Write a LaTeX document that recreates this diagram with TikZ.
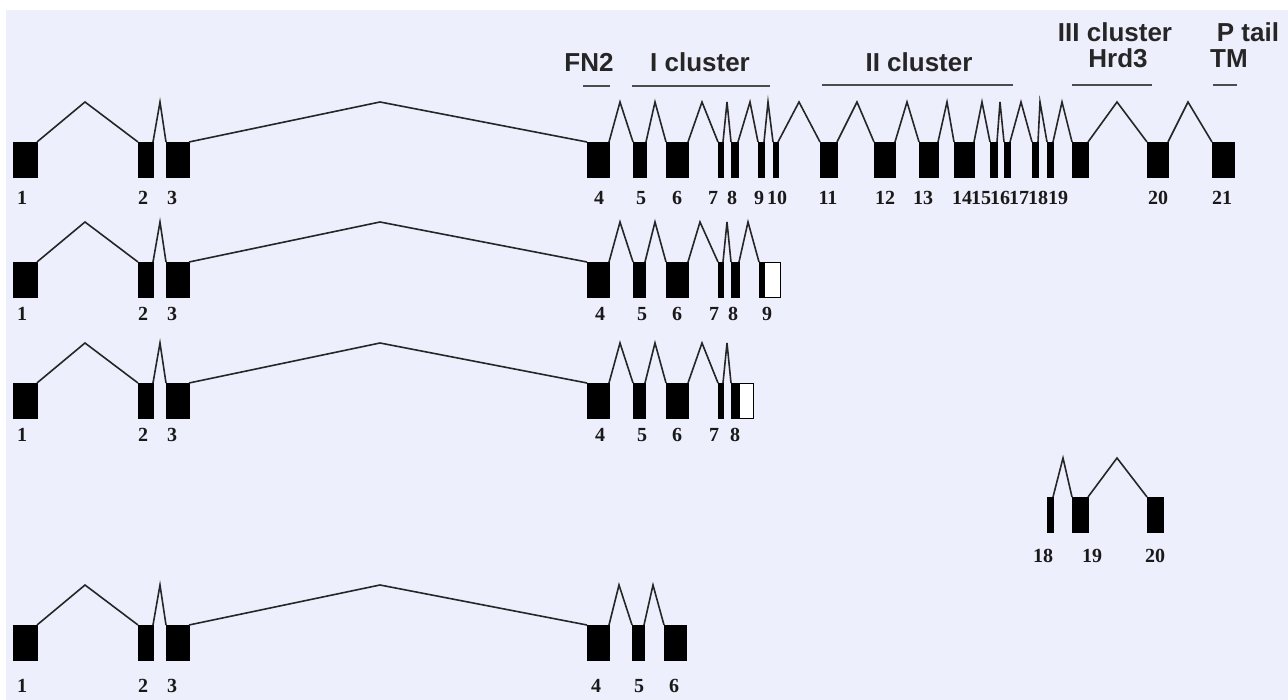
\documentclass[tikz,border=0pt]{standalone}
\usepackage{fontspec}
\setmainfont{Liberation Serif}
\newfontfamily\hdrfont{Liberation Sans}
\definecolor{bgcol}{RGB}{238,239,252}
\tikzset{
 exon/.style={draw=black, fill=black, line width=0.6pt, inner sep=0pt, outer sep=0pt, anchor=north west, minimum height=35pt},
 halfexon/.style={exon, fill=white},
 intron/.style={line width=1.6pt, draw=black!85, line join=miter},
 num/.style={font=\fontsize{20}{23}\selectfont\bfseries, anchor=base, inner sep=0pt, text=black!90},
 hdr/.style={font=\hdrfont\fontsize{26}{30}\selectfont\bfseries, anchor=base, inner sep=0pt, text=black!85},
 hbar/.style={line width=2.5pt, draw=black!70},
}
\newcommand\ex[5][exon]{\node[#1,minimum width={(#4)-(#3)}] (#2) at (#3,#5) {};}
\newcommand\intr[4]{\draw[intron] (#1.north east) -- (#3,#4) -- (#2.north west);}
\newcommand\leftpart[4]{%
 \ex{#1e1}{13}{37}{#2}
 \ex{#1e2}{138}{153}{#2}
 \ex{#1e3}{166}{189}{#2}
 \ex{#1e4}{587}{609}{#2}
 \intr{#1e1}{#1e2}{85}{#3}
 \intr{#1e2}{#1e3}{160}{#3}
 \intr{#1e3}{#1e4}{380}{#3}
 \node[num] (#1n1) at (22,#4) {1};
 \node[num] (#1n2) at (143,#4) {2};
 \node[num] (#1n3) at (172,#4) {3};
}
\begin{document}
\begin{tikzpicture}[x=1pt,y=-1pt]
\useasboundingbox (0,0) rectangle (1288,700);
\fill[white] (0,0) rectangle (1288,700);
\fill[bgcol] (6,10) rectangle (1288,700);

% headers
\node[hdr] (hfn) at (589,72) {FN2};
\node[hdr] (hI) at (700,72) {I cluster};
\node[hdr] (hII) at (919,72) {II cluster};
\node[hdr] (hIII) at (1115,42) {III cluster};
\node[hdr] (hHrd) at (1118,68) {Hrd3};
\node[hdr] (hP) at (1248,42) {P tail};
\node[hdr] (hTM) at (1229,68) {TM};
\draw[hbar] (583,86) -- (610,86);
\draw[hbar] (632,86) -- (770,86);
\draw[hbar] (822,85) -- (1013,85);
\draw[hbar] (1072,85) -- (1152,85);
\draw[hbar] (1213,85) -- (1237,85);

% ---------- row 1 ----------
\leftpart{ra}{142}{102}{205}
\ex{rae5}{633}{646}{142}
\ex{rae6}{666}{688}{142}
\ex{rae7}{718}{723}{142}
\ex{rae8}{731}{738}{142}
\ex{rae9}{758}{764}{142}
\ex{rae10}{773}{778}{142}
\ex{rae11}{820}{837}{142}
\ex{rae12}{874}{895}{142}
\ex{rae13}{919}{938}{142}
\ex{rae14}{954}{974}{142}
\ex{rae15}{990}{997}{142}
\ex{rae16}{1004}{1010}{142}
\ex{rae17}{1032}{1038}{142}
\ex{rae18}{1047}{1053}{142}
\ex{rae19}{1072}{1088}{142}
\ex{rae20}{1147}{1168}{142}
\ex{rae21}{1212}{1234}{142}
\intr{rae4}{rae5}{620}{102}
\intr{rae5}{rae6}{655}{102}
\intr{rae6}{rae7}{702}{102}
\intr{rae7}{rae8}{727}{102}
\intr{rae8}{rae9}{750}{102}
\intr{rae9}{rae10}{768}{102}
\intr{rae10}{rae11}{799}{102}
\intr{rae11}{rae12}{857}{102}
\intr{rae12}{rae13}{907}{102}
\intr{rae13}{rae14}{947}{102}
\intr{rae14}{rae15}{982}{102}
\intr{rae15}{rae16}{1000}{102}
\intr{rae16}{rae17}{1021}{102}
\intr{rae17}{rae18}{1040}{102}
\intr{rae18}{rae19}{1062}{102}
\intr{rae19}{rae20}{1117}{102}
\intr{rae20}{rae21}{1188}{102}
\node[num] (ran4) at (599,205) {4};
\node[num] (ran5) at (641,205) {5};
\node[num] (ran6) at (677,205) {6};
\node[num] (ran7) at (713,205) {7};
\node[num] (ran8) at (732,205) {8};
\node[num] (ran9) at (759,205) {9};
\node[num] (ran10) at (777,205) {10};
\node[num] (ran11) at (828,205) {11};
\node[num] (ran12) at (885,205) {12};
\node[num] (ran13) at (923,205) {13};
\node[num] (ran14) at (962,205) {14};
\node[num] (ran15) at (981,205) {15};
\node[num] (ran16) at (1000,205) {16};
\node[num] (ran17) at (1019,205) {17};
\node[num] (ran18) at (1038,205) {18};
\node[num] (ran19) at (1058,205) {19};
\node[num] (ran20) at (1158,205) {20};
\node[num] (ran21) at (1222,205) {21};

% ---------- row 2 ----------
\leftpart{rb}{262}{222}{321}
\ex{rbe5}{633}{645}{262}
\ex{rbe6}{666}{688}{262}
\ex{rbe7}{718}{723}{262}
\ex{rbe8}{731}{739}{262}
\ex[halfexon]{rbe9}{759}{780}{262}
\fill[black] (759,262) rectangle (765,297);
\intr{rbe4}{rbe5}{620}{222}
\intr{rbe5}{rbe6}{655}{222}
\intr{rbe6}{rbe7}{700}{222}
\intr{rbe7}{rbe8}{727}{222}
\intr{rbe8}{rbe9}{748}{222}
\node[num] (rbn4) at (600,321) {4};
\node[num] (rbn5) at (642,321) {5};
\node[num] (rbn6) at (677,321) {6};
\node[num] (rbn7) at (714,321) {7};
\node[num] (rbn8) at (733,321) {8};
\node[num] (rbn9) at (767,321) {9};

% ---------- row 3 ----------
\leftpart{rc}{383}{343}{442}
\ex{rce5}{633}{645}{383}
\ex{rce6}{666}{688}{383}
\ex{rce7}{718}{723}{383}
\ex[halfexon]{rce8}{731}{753}{383}
\fill[black] (731,383) rectangle (740,418);
\intr{rce4}{rce5}{620}{343}
\intr{rce5}{rce6}{655}{343}
\intr{rce6}{rce7}{702}{343}
\intr{rce7}{rce8}{727}{343}
\node[num] (rcn4) at (600,442) {4};
\node[num] (rcn5) at (642,442) {5};
\node[num] (rcn6) at (677,442) {6};
\node[num] (rcn7) at (714,442) {7};
\node[num] (rcn8) at (735,442) {8};

% ---------- row 4 ----------
\ex{rde18}{1047}{1053}{497}
\ex{rde19}{1072}{1088}{497}
\ex{rde20}{1147}{1163}{497}
\intr{rde18}{rde19}{1063}{458}
\intr{rde19}{rde20}{1117}{458}
\node[num] (rdn18) at (1043,562) {18};
\node[num] (rdn19) at (1092,562) {19};
\node[num] (rdn20) at (1155,562) {20};

% ---------- row 5 ----------
\leftpart{re}{625}{585}{692}
\ex{ree5}{632}{644}{625}
\ex{ree6}{664}{686}{625}
\intr{ree4}{ree5}{619}{585}
\intr{ree5}{ree6}{653}{585}
\node[num] (ren4) at (596,692) {4};
\node[num] (ren5) at (639,692) {5};
\node[num] (ren6) at (674,692) {6};
\end{tikzpicture}
\end{document}
